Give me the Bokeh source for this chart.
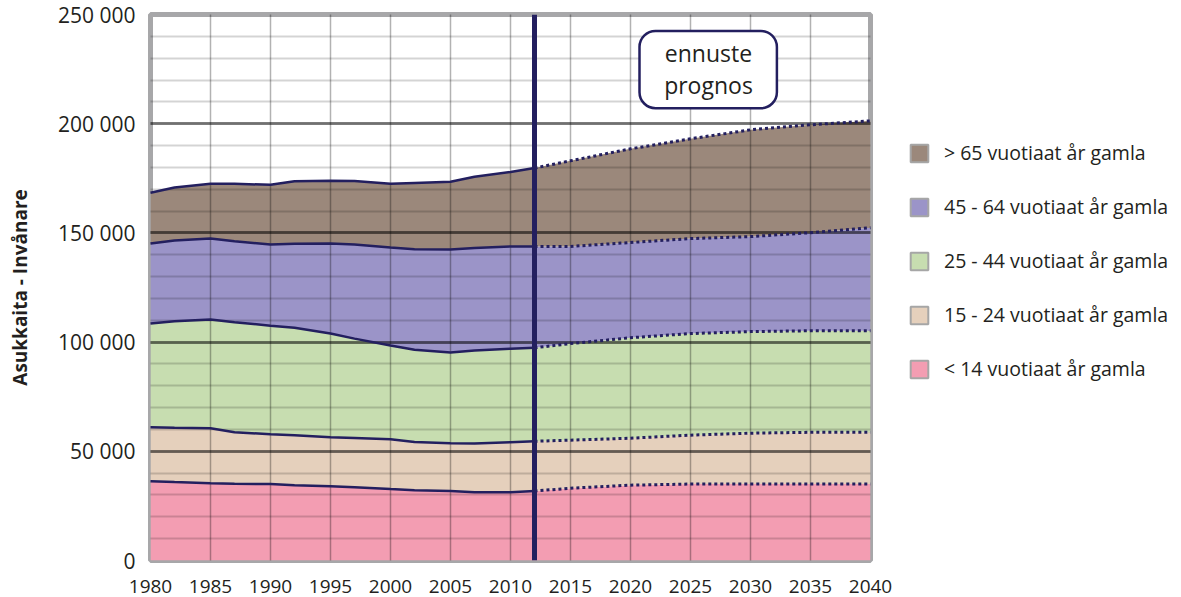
import numpy as np
from bokeh.plotting import figure
from bokeh.layouts import row
from bokeh.models import (ColumnDataSource, FixedTicker, Span, BoxAnnotation, Label,
                          Legend, LegendItem, Range1d)
from bokeh.embed import file_html
from bokeh.resources import INLINE

# ---- data (population by age group) ----
years = [1980, 1982, 1985, 1987, 1990, 1992, 1995, 1997, 2000, 2002, 2005, 2007, 2010, 2012,
         2015, 2020, 2025, 2030, 2035, 2040]
under14 = [36300, 35900, 35400, 35100, 35000, 34500, 34000, 33500, 32700, 32200, 31800, 31300, 31300, 31800,
           33100, 34500, 35000, 35000, 35000, 35000]
age15_24 = [24700, 24900, 25200, 23600, 22800, 22900, 22400, 22600, 22800, 22100, 21900, 22300, 22900, 22800,
            22000, 21500, 22400, 23300, 23700, 23700]
age25_44 = [47500, 48800, 49800, 50400, 49700, 49200, 47500, 45500, 42900, 42200, 41500, 42600, 42800, 42800,
            44200, 46000, 46500, 46500, 46500, 46500]
age45_64 = [36600, 36900, 37000, 37100, 37200, 38400, 41200, 43100, 44900, 46000, 47200, 46900, 46800, 46400,
            44500, 43600, 43500, 43500, 44900, 47200]
over65 = [23300, 24300, 25100, 26300, 27300, 28600, 28800, 29100, 29200, 30400, 31000, 32600, 34100, 35900,
          39200, 42900, 45700, 48900, 49400, 48900]
forecast_start = 2012

series_names = ["under14", "age15_24", "age25_44", "age45_64", "over65"]
legend_labels = ["< 14 vuotiaat år gamla", "15 - 24 vuotiaat år gamla", "25 - 44 vuotiaat år gamla",
                 "45 - 64 vuotiaat år gamla", "> 65 vuotiaat år gamla"]
colors = ["#f39db2", "#e5d0bc", "#c7ddb0", "#9b94c8", "#9b887b"]

x_ticks = [1980, 1985, 1990, 1995, 2000, 2005, 2010, 2015, 2020, 2025, 2030, 2035, 2040]
y_ticks = [0, 50000, 100000, 150000, 200000, 250000]
y_tick_labels = ["0", "50 000", "100 000", "150 000", "200 000", "250 000"]
y_minor = list(range(0, 250001, 10000))

box_lines = ["ennuste", "prognos"]
y_title = "Asukkaita - Invånare"

NAVY = "#231f5f"
TXT = "#231f20"
FONT = "Open Sans"

src = ColumnDataSource(dict(year=years, under14=under14, age15_24=age15_24,
                            age25_44=age25_44, age45_64=age45_64, over65=over65))

p = figure(width=895, height=597, output_backend="svg", toolbar_location=None,
           x_range=Range1d(1980, 2040), y_range=Range1d(0, 250000),
           min_border_left=150, min_border_right=25, min_border_top=14, min_border_bottom=37)
p.background_fill_color = "white"
p.border_fill_color = "white"
p.outline_line_color = "#a7a7a9"
p.outline_line_width = 5

# stacked areas
p.varea_stack(stackers=series_names, x="year", color=colors, source=src)

# boundary lines
cum = np.cumsum(np.array([under14, age15_24, age25_44, age45_64, over65], dtype=float), axis=0)
split = years.index(forecast_start)
for r_ in cum:
    p.line(years[:split + 1], list(r_[:split + 1]), line_color=NAVY, line_width=2.5, level="annotation")
    p.line(years[split:], list(r_[split:]), line_color=NAVY, line_width=3, line_dash="3 3",
           level="annotation")

p.add_layout(Span(location=forecast_start, dimension="height", line_color=NAVY, line_width=5))

# grids on top of areas
p.xgrid.ticker = FixedTicker(ticks=x_ticks)
p.xgrid.grid_line_color = "black"
p.xgrid.grid_line_alpha = 0.3
p.xgrid.grid_line_width = 1.5
p.xgrid.level = "guide"
p.ygrid.ticker = FixedTicker(ticks=y_ticks, minor_ticks=y_minor)
p.ygrid.grid_line_color = "black"
p.ygrid.grid_line_alpha = 0.47
p.ygrid.grid_line_width = 3
p.ygrid.minor_grid_line_color = "black"
p.ygrid.minor_grid_line_alpha = 0.17
p.ygrid.minor_grid_line_width = 2
p.ygrid.level = "guide"

# axes
for ax in (p.xaxis[0], p.yaxis[0]):
    ax.axis_line_color = None
    ax.major_tick_line_color = None
    ax.minor_tick_line_color = None
    ax.major_tick_out = 0
    ax.major_tick_in = 0
    ax.major_label_text_font = FONT
    ax.major_label_text_color = TXT
p.xaxis.ticker = FixedTicker(ticks=x_ticks)
p.xaxis.major_label_text_font_size = "19px"
p.xaxis.major_label_standoff = 19
p.yaxis.ticker = FixedTicker(ticks=y_ticks)
p.yaxis.major_label_overrides = {t: l for t, l in zip(y_ticks, y_tick_labels)}
p.yaxis.major_label_text_font_size = "21px"
p.yaxis.major_label_standoff = 15
p.yaxis.axis_label = y_title
p.yaxis.axis_label_text_font = FONT
p.yaxis.axis_label_text_font_style = "bold"
p.yaxis.axis_label_text_font_size = "19px"
p.yaxis.axis_label_text_color = TXT
p.yaxis.axis_label_standoff = 22

# forecast box
p.add_layout(BoxAnnotation(left=2020.75, right=2032.2, bottom=207100, top=242500,
                           fill_color="white", fill_alpha=1, line_color=NAVY, line_alpha=1,
                           line_width=2.5, border_radius=16))
for txt, yy in zip(box_lines, [232400, 217600]):
    p.add_layout(Label(x=2026.5, y=yy, text=txt, text_align="center", text_baseline="middle",
                       text_font=FONT, text_font_size="23px", text_color=TXT))

# legend panel: a blank figure holding swatch-only renderers
lf = figure(width=286, height=597, output_backend="svg", toolbar_location=None,
            x_range=Range1d(0, 1), y_range=Range1d(0, 1), min_border=0)
lf.axis.visible = False
lf.grid.visible = False
lf.outline_line_color = None
lf.background_fill_color = "white"
lf.border_fill_color = "white"
nan = float("nan")
items = []
for lab, c in zip(legend_labels, colors):
    r = lf.quad(left=[nan], right=[nan], top=[nan], bottom=[nan], fill_color=c,
                line_color="#a6a6a6", line_width=2)
    items.append(LegendItem(label=lab, renderers=[r]))
items = items[::-1]
legend = Legend(items=items, location=(13, 178), orientation="vertical",
                glyph_width=22, glyph_height=22, label_height=22, label_standoff=14, spacing=27,
                padding=0, margin=0, border_line_color=None, background_fill_alpha=0,
                label_text_font=FONT, label_text_font_size="19.5px", label_text_color=TXT)
lf.add_layout(legend)

layout = row(p, lf)
open("out.html", "w").write(file_html(layout, INLINE))
